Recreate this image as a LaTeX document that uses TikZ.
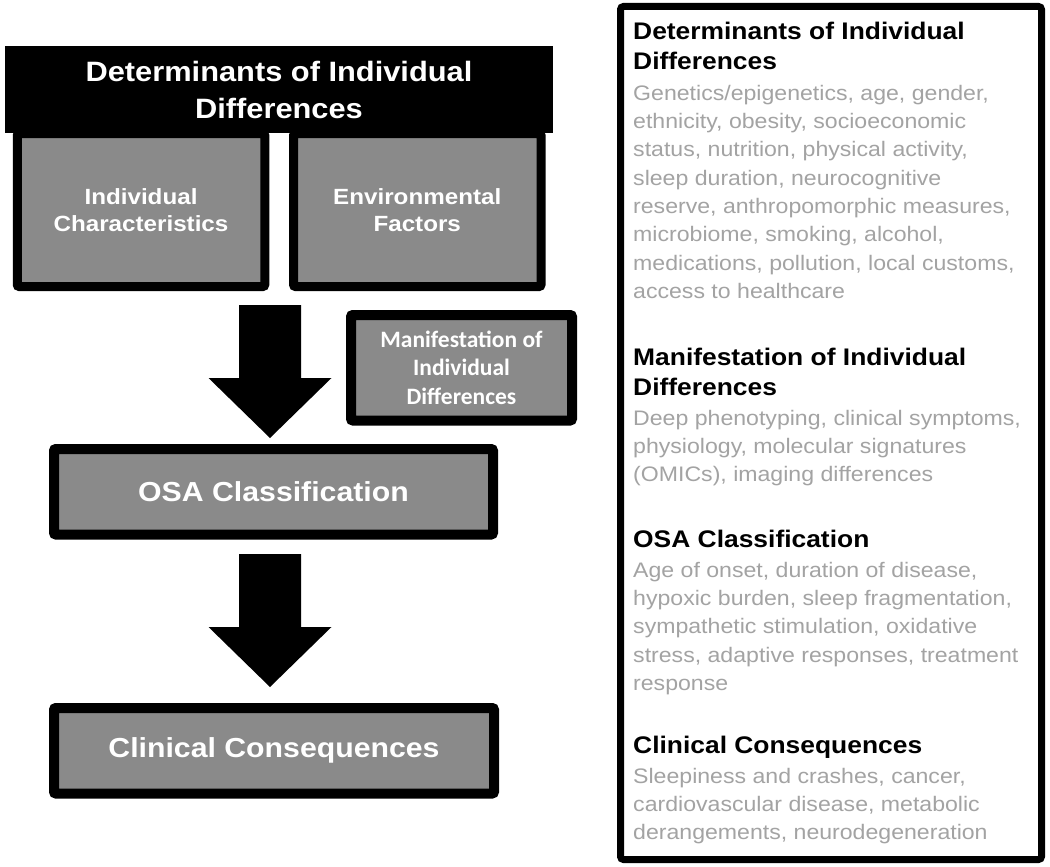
\documentclass[tikz,border=0pt]{standalone}
\usepackage{fontspec}
\newfontfamily\arialS[FakeStretch=1.1]{Liberation Sans}
\newfontfamily\calS{Carlito}
\definecolor{boxgray}{HTML}{8A8A8A}
\definecolor{txtgray}{HTML}{A3A3A3}
\tikzset{
  graybox/.style={draw=black, fill=boxgray, line width=10pt, rounded corners=2pt,
    inner sep=0pt, outer sep=0pt, text=white, align=center},
  hdfont/.style={font=\arialS\bfseries\fontsize{28}{37}\selectfont},
  subfont/.style={font=\arialS\bfseries\fontsize{22}{26.5}\selectfont},
  manfont/.style={font=\calS\bfseries\fontsize{23.5}{28.5}\selectfont},
  bigfont/.style={font=\arialS\bfseries\fontsize{27.5}{33}\selectfont},
  rhead/.style={anchor=base west, inner sep=0pt, text=black,
    font=\arialS\bfseries\fontsize{24}{30}\selectfont},
  rbody/.style={anchor=base west, inner sep=0pt, text=txtgray,
    font=\arialS\fontsize{21}{28.4}\selectfont},
  blockarrow/.pic={\fill[black] (-31,0) -- (31,0) -- (31,73) -- (61.5,73) -- (0,133)
    -- (-61.5,73) -- (-31,73) -- cycle;}
}
\begin{document}
\begin{tikzpicture}[x=1pt,y=-1pt]
\useasboundingbox (0,0) rectangle (1050,867);
\fill[white] (0,0) rectangle (1050,867);

% left column
\node[graybox, line width=9pt, minimum width=247.5pt, minimum height=153pt, subfont]
  (indiv) at (141,210) {Individual\\Characteristics};
\node[graybox, line width=9pt, minimum width=247.5pt, minimum height=153pt, subfont]
  (env) at (417.25,210) {Environmental\\Factors};
\node[fill=black, minimum width=548pt, minimum height=87pt, inner sep=0pt,
  text=white, align=center, hdfont] (det) at (279,89.5) {Determinants of Individual\\Differences};

\node[graybox, minimum width=221pt, minimum height=105.5pt, manfont]
  (manif) at (461.5,367.75) {Manifestation of\\Individual\\Differences};
\node[graybox, minimum width=439pt, minimum height=85.5pt, bigfont]
  (osa) at (273.5,491.75) {OSA Classification};
\node[graybox, minimum width=440pt, minimum height=85.5pt, bigfont]
  (clin) at (274,750.75) {Clinical Consequences};

\pic (arrA) at (270,305) {blockarrow};
\pic (arrB) at (270,554) {blockarrow};

% right panel
\node[draw=black, line width=7pt, rounded corners=3pt, minimum width=421pt,
  minimum height=853pt, inner sep=0pt] (panel) at (831,433) {};

\node[rhead] (h1) at (633,40) {\parbox[t]{410pt}{\raggedright Determinants of Individual\\Differences}};
\node[rbody] (b1) at (633,100) {\parbox[t]{410pt}{\raggedright
Genetics/epigenetics, age, gender,\\
ethnicity, obesity, socioeconomic\\
status, nutrition,\ physical activity,\\
sleep duration, neurocognitive\\
reserve, anthropomorphic measures,\\
microbiome, smoking, alcohol,\\
medications, pollution, local customs,\\
access to healthcare}};

\node[rhead] (h2) at (633,365) {\parbox[t]{410pt}{\raggedright Manifestation\ of Individual\\Differences}};
\node[rbody] (b2) at (633,425) {\parbox[t]{410pt}{\raggedright
Deep phenotyping, clinical symptoms,\\
physiology, molecular signatures\\
(OMICs), imaging differences}};

\node[rhead] (h3) at (633,547) {\parbox[t]{410pt}{\raggedright OSA Classification}};
\node[rbody] (b3) at (633,577) {\parbox[t]{410pt}{\raggedright
Age of onset, duration of disease,\\
hypoxic burden, sleep fragmentation,\\
sympathetic stimulation,\ oxidative\\
stress, adaptive responses, treatment\\
response}};

\node[rhead] (h4) at (633,753) {\parbox[t]{410pt}{\raggedright Clinical\ Consequences}};
\node[rbody] (b4) at (633,783) {\parbox[t]{410pt}{\raggedright
Sleepiness and crashes, cancer,\\
cardiovascular disease, metabolic\\
derangements, neurodegeneration}};
\end{tikzpicture}
\end{document}
